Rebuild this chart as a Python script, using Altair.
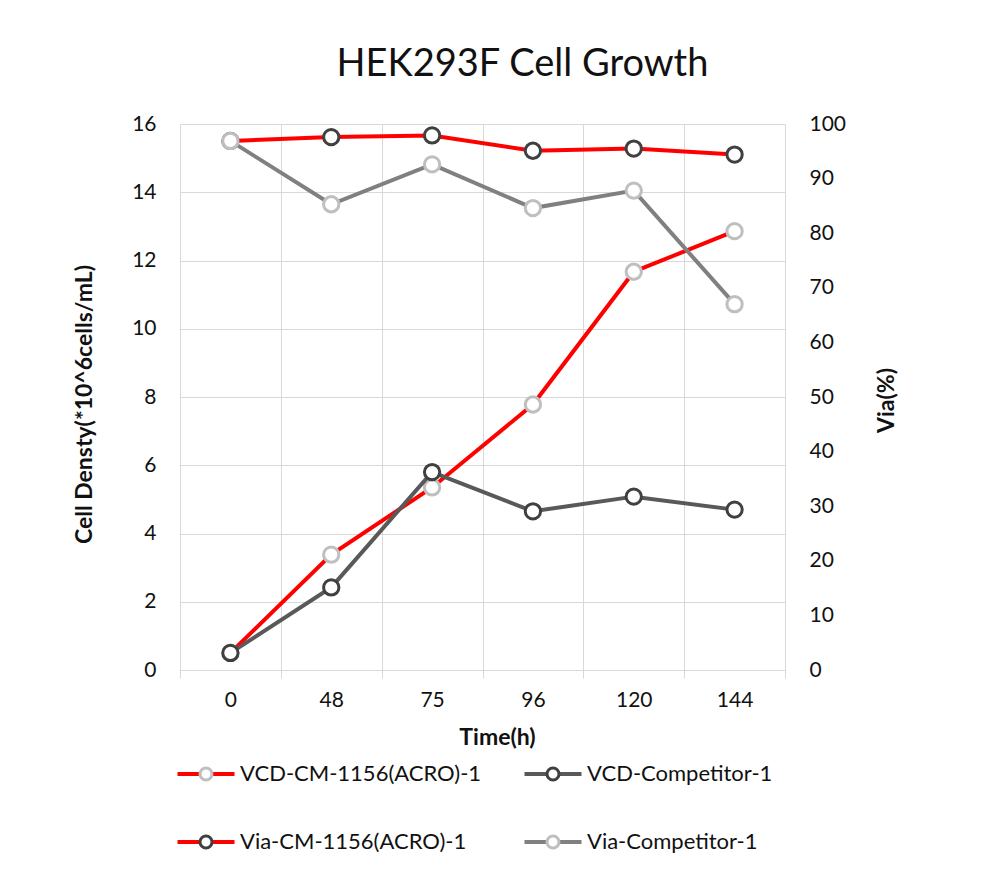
import altair as alt
import pandas as pd

# ---- data ----
times = ["0", "48", "75", "96", "120", "144"]
vcd_cm = [0.5, 3.38, 5.35, 7.78, 11.67, 12.86]
vcd_comp = [0.5, 2.42, 5.8, 4.65, 5.08, 4.7]
via_cm = [96.9, 97.6, 97.9, 95.1, 95.5, 94.4]
via_comp = [96.9, 85.3, 92.6, 84.6, 87.8, 67.0]

series_names = ["VCD-CM-1156(ACRO)-1", "VCD-Competitor-1",
                "Via-CM-1156(ACRO)-1", "Via-Competitor-1"]
line_colors = ["#FF0000", "#595959", "#FF0000", "#808080"]
marker_colors = ["#BFBFBF", "#404040", "#404040", "#BFBFBF"]

left_ticks = [0, 2, 4, 6, 8, 10, 12, 14, 16]
right_ticks = [0, 10, 20, 30, 40, 50, 60, 70, 80, 90, 100]

FONT = "Lato"
GRID = "#D9D9D9"
TXT = "#111111"
W, H = 605, 546

x_scale = alt.Scale(type="band", domain=times, paddingInner=0, paddingOuter=0)
x_main = alt.X(
    "time:N", sort=times, bandPosition=0.5, scale=x_scale,
    axis=alt.Axis(
        title="Time(h)", tickBand="extent", grid=True, gridColor=GRID, gridWidth=1,
        domain=True, domainColor=GRID, domainWidth=1,
        ticks=True, tickColor=GRID, tickSize=8, tickWidth=1,
        labelAngle=0, labelFont=FONT, labelFontSize=21, labelColor=TXT, labelPadding=11,
        titleFont=FONT, titleFontSize=23, titleFontWeight="bold", titleColor=TXT,
        titleX=317, titleY=67, titleBaseline="middle", titleAlign="center",
    ),
)
x_hidden = alt.X("time:N", sort=times, bandPosition=0.5, scale=x_scale, axis=None)

y_left = alt.Y(
    "value:Q", scale=alt.Scale(domain=[0, 16], nice=False, zero=True),
    axis=alt.Axis(
        title="Cell Densty(*10^6cells/mL)", values=left_ticks, grid=True,
        gridColor=GRID, gridWidth=1, domain=False, ticks=False,
        labelFont=FONT, labelFontSize=21, labelColor=TXT, labelPadding=24,
        titleFont=FONT, titleFontSize=23, titleFontWeight="bold", titleColor=TXT,
        titleAngle=270, titleX=-96, titleY=280, titleBaseline="middle", titleAlign="center",
    ),
)
y_right = alt.Y(
    "value:Q", scale=alt.Scale(domain=[0, 100], nice=False, zero=True),
    axis=alt.Axis(
        orient="right", title="Via(%)", values=right_ticks, grid=False,
        domain=False, ticks=False,
        labelFont=FONT, labelFontSize=21, labelColor=TXT, labelPadding=24,
        titleFont=FONT, titleFontSize=23, titleFontWeight="bold", titleColor=TXT,
        titleAngle=270, titleX=101, titleY=276, titleBaseline="middle", titleAlign="center",
    ),
)


def series_layer(vals, name, lc, mc, x_enc, y_enc):
    df = pd.DataFrame({"time": times, "value": vals, "series": name})
    base = alt.Chart(df).encode(x=x_enc, y=y_enc)
    line = base.mark_line(color=lc, strokeWidth=4)
    pts = base.mark_point(shape="circle", filled=True, fill="white", stroke=mc,
                          strokeWidth=3, size=234, opacity=1)
    return alt.layer(line, pts)


left_layer = alt.layer(
    series_layer(vcd_cm, series_names[0], line_colors[0], marker_colors[0], x_main, y_left),
    series_layer(vcd_comp, series_names[1], line_colors[1], marker_colors[1], x_main, y_left),
)
right_layer = alt.layer(
    series_layer(via_cm, series_names[2], line_colors[2], marker_colors[2], x_hidden, y_right),
    series_layer(via_comp, series_names[3], line_colors[3], marker_colors[3], x_hidden, y_right),
)

# ---- custom legend (line + marker symbol) below the plot ----
leg_df = pd.DataFrame({
    "name": series_names,
    "lc": line_colors,
    "mc": marker_colors,
    "col": [i % 2 for i in range(len(series_names))],
    "row": [i // 2 for i in range(len(series_names))],
})
xl = alt.X("col:Q", scale=alt.Scale(domain=[0, 1], range=[26, 373]), axis=None)
yl = alt.Y("row:Q", scale=alt.Scale(domain=[0, 1], range=[650, 718]), axis=None)
leg_base = alt.Chart(leg_df).encode(x=xl, y=yl)
leg_line = leg_base.mark_point(shape="M-1,0L1,0", size=3249, strokeWidth=4,
                               filled=False, opacity=1).encode(
    stroke=alt.Stroke("lc:N", scale=None))
leg_pt = leg_base.mark_point(shape="circle", filled=True, fill="white", size=144,
                             strokeWidth=3, opacity=1).encode(
    stroke=alt.Stroke("mc:N", scale=None))
leg_txt = leg_base.mark_text(align="left", baseline="middle", dx=34, font=FONT,
                             fontSize=22, color=TXT).encode(text="name:N")
legend_layer = alt.layer(leg_line, leg_pt, leg_txt)

chart = (
    alt.layer(left_layer, right_layer, legend_layer)
    .resolve_scale(x="independent", y="independent")
    .properties(
        width=W, height=H,
        title=alt.Title("HEK293F Cell Growth", font=FONT, fontSize=38,
                        fontWeight="normal", color=TXT, anchor="middle",
                        frame="group", dx=40, dy=41, offset=40, baseline="alphabetic"),
        autosize=alt.AutoSizeParams(type="none"),
        padding={"left": 180, "top": 124, "right": 215, "bottom": 208},
        background="white",
    )
    .configure_view(stroke=None)
)

chart.save("out.html", embed_options={"renderer": "svg", "actions": False})
